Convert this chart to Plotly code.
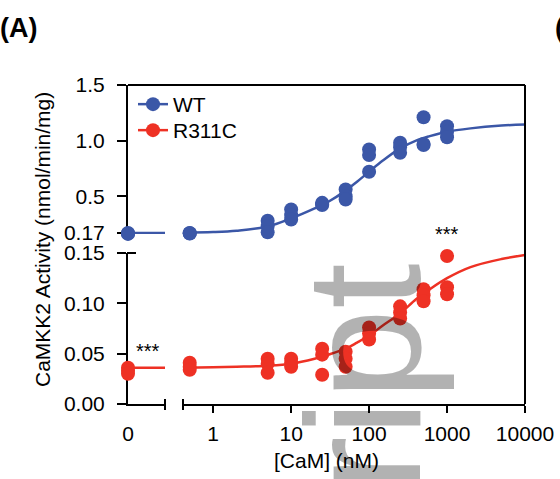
import math
import plotly.graph_objects as go

# ---------------- data ----------------
conc_nm = [0.5, 5, 10, 25, 50, 100, 250, 500, 1000]

wt_zero = [0.170, 0.165, 0.161]
wt_vals = [
    [0.170, 0.167, 0.165],
    [0.28, 0.23, 0.175],
    [0.38, 0.33, 0.29],
    [0.43, 0.42, 0.44],
    [0.56, 0.50, 0.47],
    [0.92, 0.87, 0.72],
    [0.98, 0.94, 0.89],
    [1.21, 0.97, 0.96],
    [1.13, 1.08, 1.03],
]
r311c_zero = [0.036, 0.033, 0.030]
r311c_vals = [
    [0.041, 0.037, 0.034],
    [0.045, 0.040, 0.031],
    [0.045, 0.041, 0.037],
    [0.055, 0.049, 0.029],
    [0.052, 0.045, 0.037],
    [0.076, 0.070, 0.064],
    [0.097, 0.091, 0.085],
    [0.114, 0.108, 0.102],
    [0.147, 0.116, 0.109],
]

fit_conc = [0.41, 1, 2, 5, 10, 20, 30, 50, 70, 100, 150, 250, 400, 600, 1000, 2000, 5000, 10000]
wt_fit = [0.172, 0.178, 0.19, 0.227, 0.30, 0.39, 0.45, 0.55, 0.63, 0.72, 0.82, 0.93, 1.00, 1.04,
          1.08, 1.11, 1.135, 1.145]
r311c_fit = [0.036, 0.0365, 0.037, 0.038, 0.040, 0.045, 0.049, 0.055, 0.061, 0.068, 0.078, 0.090,
             0.104, 0.114, 0.125, 0.136, 0.144, 0.148]
zero_fit_x = [0, 1.2]
wt_fit_zero = [0.17, 0.17]
r311c_fit_zero = [0.036, 0.036]

lower_ticks = [0, 0.05, 0.10, 0.15]
lower_ticktext = ["0.00", "0.05", "0.10", "0.15"]
upper_ticks = [0.17, 0.5, 1.0, 1.5]
upper_ticktext = ["0.17", "0.5", "1.0", "1.5"]
x_ticks = [1, 10, 100, 1000, 10000]
x_ticktext = ["1", "10", "100", "1000", "10000"]

BLUE = "#3B57A7"
RED = "#EE3124"
FONT = "Liberation Sans, Arial, Helvetica, sans-serif"
FS = 21

W, H = 560, 479
L, R, T, B = 128, 35, 85, 75
PW, PH = W - L - R, H - T - B


def px_x(p):
    return (p - L) / PW


def px_y(p):
    return (H - B - p) / PH


def flat(conc, vals):
    xs, ys = [], []
    for c, vs in zip(conc, vals):
        for v in vs:
            xs.append(c)
            ys.append(v)
    return xs, ys


fig = go.Figure()

# fit curves
fig.add_trace(go.Scatter(x=zero_fit_x, y=wt_fit_zero, xaxis="x", yaxis="y2", mode="lines",
                         line=dict(color=BLUE, width=2.5), showlegend=False, hoverinfo="skip"))
fig.add_trace(go.Scatter(x=fit_conc, y=wt_fit, xaxis="x2", yaxis="y2", mode="lines",
                         line=dict(color=BLUE, width=2.5, shape="spline"), showlegend=False))
fig.add_trace(go.Scatter(x=zero_fit_x, y=r311c_fit_zero, xaxis="x", yaxis="y", mode="lines",
                         line=dict(color=RED, width=2.5), showlegend=False, hoverinfo="skip"))
fig.add_trace(go.Scatter(x=fit_conc, y=r311c_fit, xaxis="x2", yaxis="y", mode="lines",
                         line=dict(color=RED, width=2.5, shape="spline"), showlegend=False))

mk_b = dict(color=BLUE, size=14, line=dict(width=0))
mk_r = dict(color=RED, size=14, line=dict(width=0))

# points
fig.add_trace(go.Scatter(x=[0] * len(wt_zero), y=wt_zero, xaxis="x", yaxis="y2", mode="markers",
                         marker=mk_b, cliponaxis=False, showlegend=False))
xs, ys = flat(conc_nm, wt_vals)
fig.add_trace(go.Scatter(x=xs, y=ys, xaxis="x2", yaxis="y2", mode="markers",
                         marker=mk_b, cliponaxis=False, showlegend=False))
fig.add_trace(go.Scatter(x=[0] * len(r311c_zero), y=r311c_zero, xaxis="x", yaxis="y", mode="markers",
                         marker=mk_r, cliponaxis=False, showlegend=False))
xs, ys = flat(conc_nm, r311c_vals)
fig.add_trace(go.Scatter(x=xs, y=ys, xaxis="x2", yaxis="y", mode="markers",
                         marker=mk_r, cliponaxis=False, showlegend=False))

# legend entries (two legends for precise row spacing)
fig.add_trace(go.Scatter(x=[None], y=[None], xaxis="x2", yaxis="y2", mode="lines+markers", name="WT",
                         marker=mk_b, line=dict(color=BLUE, width=2.5), legend="legend"))
fig.add_trace(go.Scatter(x=[None], y=[None], xaxis="x2", yaxis="y", mode="lines+markers", name="R311C",
                         marker=mk_r, line=dict(color=RED, width=2.5), legend="legend2"))

axcommon = dict(showgrid=False, zeroline=False, showline=True, linecolor="black", linewidth=2,
                tickcolor="black", tickwidth=2, layer="below traces", automargin=False,
                tickfont=dict(family=FONT, size=FS, color="black"))

leg_common = dict(xanchor="left", yanchor="top", bgcolor="rgba(0,0,0,0)",
                  font=dict(family=FONT, size=FS, color="black"), tracegroupgap=0, itemsizing="trace")

fig.update_layout(
    width=W, height=H,
    margin=dict(l=L, r=R, t=T, b=B, pad=0, autoexpand=False),
    paper_bgcolor="white", plot_bgcolor="rgba(0,0,0,0)",
    font=dict(family=FONT, size=FS, color="black"),
    xaxis=dict(domain=[0, px_x(165)], range=[0, 1], tickvals=[0], ticktext=["0"], ticks="",
               anchor="y", ticklabelstandoff=10, **axcommon),
    xaxis2=dict(domain=[px_x(183), 1], type="log", range=[math.log10(0.41), 4],
                tickvals=x_ticks, ticktext=x_ticktext, ticks="outside", ticklen=7,
                anchor="y", ticklabelstandoff=3, **axcommon),
    yaxis=dict(domain=[0, px_y(253)], range=[0, 0.15], tickvals=lower_ticks, ticktext=lower_ticktext,
               ticks="outside", ticklen=9, anchor="x", ticklabelstandoff=8, **axcommon),
    yaxis2=dict(domain=[px_y(234), 1], range=[0.16, 1.5], tickvals=upper_ticks, ticktext=upper_ticktext,
                ticks="outside", ticklen=9, anchor="x", ticklabelstandoff=8, **axcommon),
    legend=dict(x=px_x(133), y=px_y(84), **leg_common),
    legend2=dict(x=px_x(133), y=px_y(110), **leg_common),
    showlegend=True,
)

line_k = dict(color="black", width=2)
fig.add_shape(type="line", xref="paper", yref="paper", x0=0, x1=1, y0=1, y1=1, line=line_k)
fig.add_shape(type="line", xref="paper", yref="paper", x0=1, x1=1, y0=0, y1=1, line=line_k)
for p in (165, 183):
    fig.add_shape(type="line", xref="paper", yref="paper", x0=px_x(p), x1=px_x(p),
                  y0=px_y(399), y1=px_y(410), line=line_k)
fig.add_shape(type="line", xref="paper", yref="paper", x0=px_x(127), x1=px_x(136),
              y0=px_y(253), y1=px_y(253), line=line_k)

ann = []
ann.append(dict(text="***", x=0, y=max(r311c_zero), xref="x", yref="y", xanchor="center",
                yanchor="middle", xshift=20, yshift=17, showarrow=False,
                font=dict(family=FONT, size=20, color="black")))
ann.append(dict(text="***", x=math.log10(1000), y=max(r311c_vals[-1]), xref="x2", yref="y",
                xanchor="center", yanchor="middle", yshift=22, showarrow=False,
                font=dict(family=FONT, size=20, color="black")))
ann.append(dict(text="[CaM] (nM)", x=0.5, y=px_y(460), xref="paper", yref="paper",
                xanchor="center", yanchor="middle", showarrow=False,
                font=dict(family=FONT, size=FS, color="black")))
ann.append(dict(text="CaMKK2 Activity (nmol/min/mg)", x=px_x(42), y=px_y(240), xref="paper",
                yref="paper", xanchor="center", yanchor="middle", textangle=-90, showarrow=False,
                font=dict(family=FONT, size=FS, color="black")))
ann.append(dict(text="<b>(A)</b>", x=px_x(-2), y=px_y(28), xref="paper", yref="paper",
                xanchor="left", yanchor="middle", showarrow=False,
                font=dict(family=FONT, size=27, color="black")))
ann.append(dict(text="<b>(B)</b>", x=px_x(553), y=px_y(28), xref="paper", yref="paper",
                xanchor="left", yanchor="middle", showarrow=False,
                font=dict(family=FONT, size=27, color="black")))
ann.append(dict(text="script", x=px_x(363), y=px_y(459), xref="paper", yref="paper",
                xanchor="center", yanchor="middle", textangle=-90, showarrow=False,
                font=dict(family=FONT, size=164, color="rgba(0,0,0,0.3)")))
fig.update_layout(annotations=ann)

fig.write_html("out.html", config={"displayModeBar": False},
               post_script="document.body.style.margin='0';document.body.style.overflow='hidden';")
